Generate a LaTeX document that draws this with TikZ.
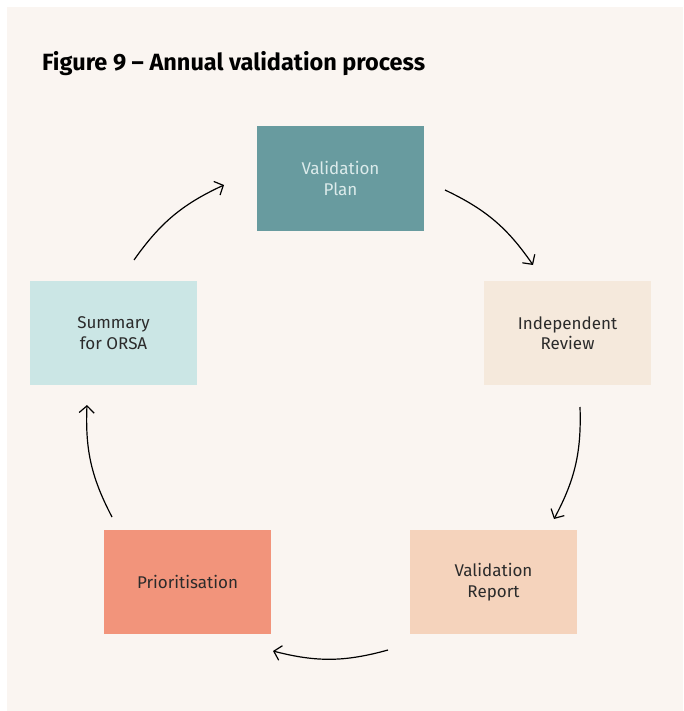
\documentclass[tikz,border=0pt]{standalone}
\usepackage{fontspec}
\setmainfont{Fira Sans}
\usetikzlibrary{arrows.meta}
\definecolor{bgc}{HTML}{FAF5F1}
\definecolor{cplan}{HTML}{689B9F}
\definecolor{creview}{HTML}{F5E9DC}
\definecolor{creport}{HTML}{F5D3BC}
\definecolor{cprio}{HTML}{F2947B}
\definecolor{corsa}{HTML}{CBE6E5}
\definecolor{txtd}{HTML}{2B2B2B}
\definecolor{txtl}{HTML}{DCEBEB}
\tikzset{
  stepbox/.style={draw=none, minimum width=167pt, minimum height=104pt, inner sep=0pt,
    align=center, text=txtd, font=\fontsize{17}{20.5}\selectfont},
  flow/.style={line width=1.2pt, -{Straight Barb[length=7pt,width=15pt,line width=1.2pt]}, bend left=15}
}
\begin{document}
\begin{tikzpicture}[x=1pt,y=-1pt]
\useasboundingbox (0,0) rectangle (683,711);
\fill[white] (0,0) rectangle (683,711);
\fill[bgc] (7,7) rectangle (683,711);
\node[anchor=base west, font=\bfseries\fontsize{23.5}{26}\selectfont, text=black, inner sep=0pt] (title) at (42,71) {Figure 9 – Annual validation process};
\node[stepbox, fill=cplan, text=txtl] (plan) at (340.5,178.5) {Validation\\Plan};
\node[stepbox, fill=creview] (review) at (567.5,333) {Independent\\Review};
\node[stepbox, fill=creport] (report) at (493.5,582) {Validation\\Report};
\node[stepbox, fill=cprio] (prio) at (187.5,582) {Prioritisation};
\node[stepbox, fill=corsa] (orsa) at (113.5,333) {Summary\\for ORSA};
\coordinate (a1s) at (445,190); \coordinate (a1e) at (533,265);
\coordinate (a2s) at (580,407); \coordinate (a2e) at (554,519);
\coordinate (a3s) at (388,650); \coordinate (a3e) at (273,651);
\coordinate (a4s) at (112,517); \coordinate (a4e) at (87,405);
\coordinate (a5s) at (134,260); \coordinate (a5e) at (224,185);
\draw[flow] (a1s) to (a1e);
\draw[flow] (a2s) to (a2e);
\draw[flow] (a3s) to (a3e);
\draw[flow] (a4s) to (a4e);
\draw[flow] (a5s) to (a5e);
\end{tikzpicture}
\end{document}
